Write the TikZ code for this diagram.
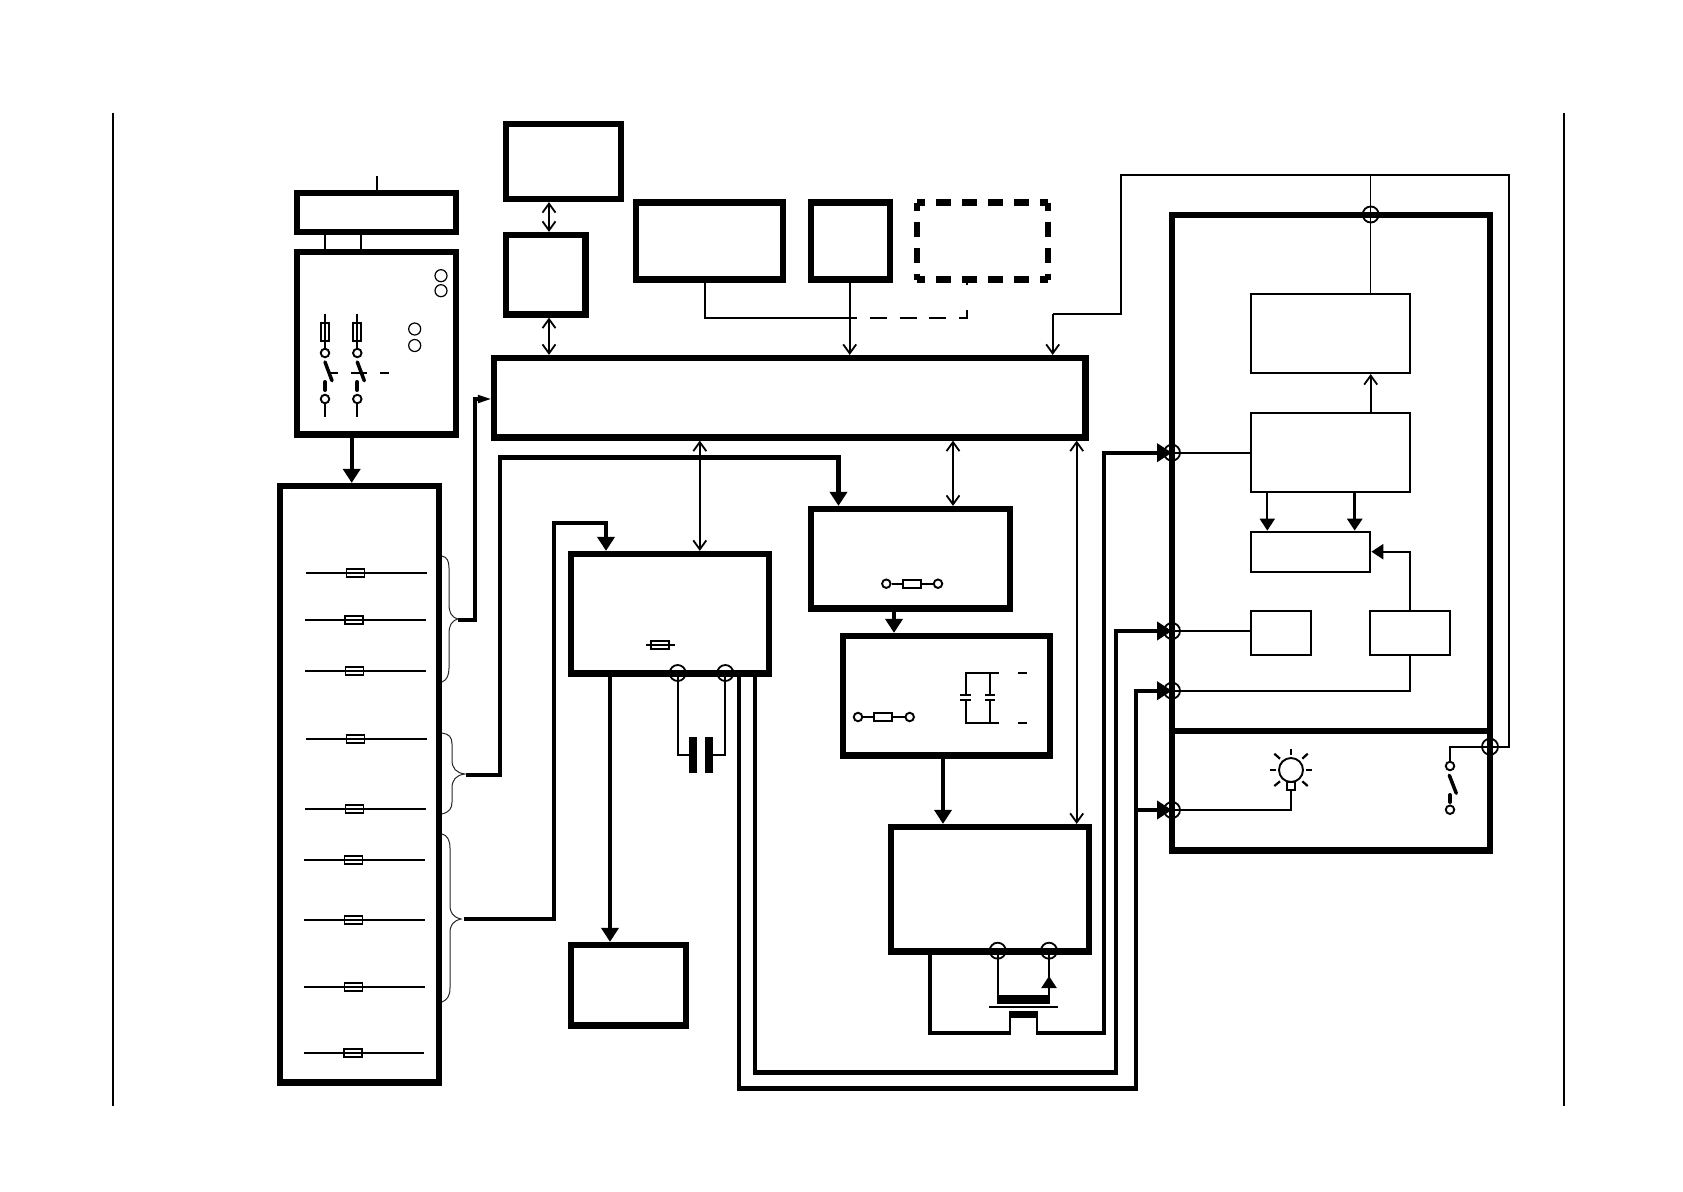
\documentclass[tikz,border=0pt]{standalone}
\usetikzlibrary{arrows.meta}
\newcommand\mybox[6]{\node[#6,minimum width={(#4-#2)*1pt},minimum height={(#5-#3)*1pt}] (#1) at ({(#2+#4)/2},{(#3+#5)/2}) {};}
\tikzset{
 x=1pt,y=-1pt,
 obarb/.tip={Straight Barb[length=9pt,width=13pt,line width=1.8pt]},
 ftri/.tip={Triangle[length=14pt,width=17pt]},
 fsm/.tip={Triangle[length=12pt,width=15pt]},
 fjun/.tip={Triangle[length=15pt,width=18pt]},
 ftiny/.tip={Triangle[length=13pt,width=8pt]},
 every node/.style={inner sep=0pt},
 thickbox/.style={draw,rectangle,line width=6.2pt},
 thinbox/.style={draw,rectangle,line width=2.1pt},
 plain/.style={draw=none,rectangle,outer sep=0pt},
 blob/.style={fill=black,rectangle,outer sep=0pt},
 heavy/.style={line width=4.2pt},
 mid/.style={line width=2.2pt},
 fine/.style={line width=1.9pt},
 jun/.style={draw,circle,line width=1.8pt,minimum size=16pt},
 term/.style={draw,circle,line width=1.9pt,minimum size=8.5pt,fill=white},
 gauge/.style={draw,circle,line width=1.2pt,minimum size=12pt},
 fuseh/.style={draw,rectangle,line width=1.8pt,minimum width=18pt,minimum height=8pt},
 fusev/.style={draw,rectangle,line width=1.8pt,minimum width=8pt,minimum height=18pt},
 blade/.style={line width=3.5pt,line cap=round},
 bracel/.style={line width=1pt,black!85},
}
\begin{document}
\begin{tikzpicture}
\useasboundingbox (0,0) rectangle (1683,1191);
\fill[white] (0,0) rectangle (1683,1191);
% frame rules
\coordinate (fl1) at (113.3,112.5); \coordinate (fl2) at (113.3,1105.7);
\coordinate (fr1) at (1564,112.5); \coordinate (fr2) at (1564,1105.7);
\draw[fine] (fl1) -- (fl2);
\draw[fine] (fr1) -- (fr2);
% thick boxes
\mybox{A}{297}{193}{456}{232}{thickbox}
\mybox{B}{297}{252}{456}{434.5}{thickbox}
\mybox{Pan}{280}{486}{439}{1082.5}{thickbox}
\mybox{J}{506}{124}{621}{199}{thickbox}
\mybox{K}{506}{235}{585.5}{314.5}{thickbox}
\mybox{L}{636}{202.5}{783}{279.5}{thickbox}
\mybox{M}{811}{202.5}{890}{279.5}{thickbox}
\mybox{N}{917}{202.5}{1048}{279.5}{plain}
\mybox{Main}{494}{358}{1085.5}{437.5}{thickbox}
\mybox{C}{571}{554}{769}{673.5}{thickbox}
\mybox{D}{811}{509}{1010}{608.5}{thickbox}
\mybox{E}{843}{636}{1050}{755.5}{thickbox}
\mybox{F}{891}{827}{1089}{951.5}{thickbox}
\mybox{P}{571}{945}{686}{1025.5}{thickbox}
\mybox{R1}{1172}{215}{1490}{731}{thickbox}
\mybox{R2}{1172}{731}{1490}{850.5}{thickbox}
% dashed box
\begin{scope}[line width=6.2pt,dash pattern=on 15pt off 11pt,dash phase=7pt]
\draw (N.north west) -- (N.north east);
\draw (N.south west) -- (N.south east);
\draw (N.north west) -- (N.south west);
\draw (N.north east) -- (N.south east);
\end{scope}
% thin boxes
\mybox{G}{1250.7}{293.7}{1410}{373}{thinbox}
\mybox{H}{1250.7}{413}{1410}{492}{thinbox}
\mybox{I}{1250.7}{531.7}{1370.3}{572}{thinbox}
\mybox{S1}{1250.7}{610.7}{1311.3}{655}{thinbox}
\mybox{S2}{1370.3}{610.7}{1450.3}{655}{thinbox}
% junctions
\node[jun] (jt) at (1370.7,214.5) {};
\node[jun] (j1) at (1172,452.7) {};
\node[jun] (j2) at (1172,631) {};
\node[jun] (j3) at (1172,690.7) {};
\node[jun] (j4) at (1172,810) {};
\node[jun] (j5) at (1490,746.7) {};
\node[jun] (c1) at (677.7,673) {};
\node[jun] (c2) at (725.3,673) {};
\node[jun] (f1) at (997.7,950.7) {};
\node[jun] (f2) at (1049,950.7) {};
\node[term] (sw1) at (1450,766) {};
\node[term] (sw2) at (1450,809.7) {};
% top connectors
\coordinate (feed) at (377,176);
\draw[mid] (feed) -- (377,0 |- A.north);
\draw[mid] (325,0 |- A.south) -- (325,0 |- B.north);
\draw[mid] (360.7,0 |- A.south) -- (360.7,0 |- B.north);
\draw[heavy,-ftri] (351.7,0 |- B.south) -- (351.7,0 |- Pan.north);
\draw[fine,obarb-obarb] (549,0 |- J.south) -- (549,0 |- K.north);
\draw[fine,obarb-obarb] (549,0 |- K.south) -- (549,0 |- Main.north);
\draw[fine] (704.7,0 |- L.south) |- (856.6,318);
\draw[fine,-obarb] (849.7,0 |- M.south) -- (849.7,0 |- Main.north);
\draw[fine,dash pattern=on 17pt off 12.5pt] (870,318) -- (967,318) -- (967,310);
\draw[fine] (967,285) -- (967,0 |- N.south);
% ring line
\draw[fine] (sw1.north) -- (1450,746.7) -- (j5.center) -- (1509.3,746.7) -- (1509.3,175) -- (1121,175) -- (1121,314) -- (1052.7,314);
\draw[fine,-obarb] (1052.7,314) -- (1052.7,0 |- Main.north);
\draw[line width=1.2pt] (1370.7,175) -- (jt.center) -- (1370.7,0 |- G.north);
% main-bus two-way
\draw[fine,obarb-obarb] (699.8,0 |- Main.south) -- (699.8,0 |- C.north);
\draw[fine,obarb-obarb] (953,0 |- Main.south) -- (953,0 |- D.north);
\draw[fine,obarb-obarb] (1076.7,0 |- Main.south) -- (1076.7,0 |- F.north);
% panel feeds
\coordinate (b1) at (458,620); \coordinate (b2) at (466,775); \coordinate (b3) at (464,919);
\draw[heavy] (b1) -- (475,620) -- (475,399) -- (480,399);
\draw[fine,-ftiny] (475,399) -- (Main.west |- 0,399);
\draw[heavy,-ftri] (b2) -- (500,775) -- (500,457.5) -- (838.5,457.5) -- (838.5,0 |- D.north);
\draw[heavy,-ftri] (b3) -- (554,919) -- (554,523) -- (606,523) -- (606,0 |- C.north);
\draw[heavy,-ftri] (894,0 |- D.south) -- (894,0 |- E.north);
\draw[heavy,-ftri] (943,0 |- E.south) -- (943,0 |- F.north);
\draw[heavy,-ftri] (610,0 |- C.south) -- (610,0 |- P.north);
% long buses
\draw[heavy,-fjun] (755,0 |- C.south) -- (755,1072.5) -- (1116,1072.5) -- (1116,631) -- (j2.center);
\draw[heavy,-fjun] (739,0 |- C.south) -- (739,1088.5) -- (1136,1088.5) -- (1136,690.7) -- (j3.center);
\draw[heavy,-fjun] (1136,810) -- (j4.center);
\draw[heavy] (930,0 |- F.south) -- (930,1033) -- (1010.7,1033);
\draw[heavy,-fjun] (1036,1033) -- (1104,1033) -- (1104,452.7) -- (j1.center);
% right box internals
\draw[mid] (j1.center) -- (H.west |- j1.center);
\draw[mid] (j2.center) -- (S1.west |- j2.center);
\draw[mid] (j3.center) -| (1410,0 |- S2.south);
\draw[mid,-fsm] (1410,0 |- S2.north) -- (1410,551.7) -- (I.east |- 0,551.7);
\draw[fine,-obarb] (1370.7,0 |- H.north) -- (1370.7,0 |- G.south);
\draw[fine,-fsm] (1267.3,0 |- H.south) -- (1267.3,0 |- I.north);
\draw[line width=3pt,-fsm] (1354.7,0 |- H.south) -- (1354.7,0 |- I.north);
% gauges
\node[gauge] (g1) at (441,275.7) {};
\node[gauge] (g2) at (441,290.7) {};
\node[gauge] (g3) at (414.7,329) {};
\node[gauge] (g4) at (414.7,345.5) {};
% double breaker
\foreach \n/\xx in {a/325,b/357.3}{
 \draw[mid] (\xx,314) -- (\xx,353);
 \draw[mid] (\xx,399) -- (\xx,417);
 \node[fusev] (fu\n) at (\xx,331.7) {};
 \node[term] (ta\n) at (\xx,353) {};
 \node[term] (tb\n) at (\xx,399) {};
 \draw[blade] (\xx,362) -- (\xx+7,380.7);
 \draw[line width=4pt,line cap=round] (\xx,382) -- (\xx,390);
}
\draw[mid] (330,372.7) -- (338,372.7);
\draw[mid] (351,372.7) -- (367,372.7);
\draw[mid] (380,372.7) -- (389,372.7);
% panel fuses
\foreach \n/\yy/\xa/\xb/\xf in {1/573.3/306/426.7/355.5,2/620.3/305/426/354,3/671.3/305/426/354.5,4/739.3/306/427/355.5,5/809.3/305/426/354.5,6/860.3/304/425/353.5,7/920.3/304/425/353.5,8/987.3/304/425/353.5,9/1053.3/304/424/353}{
 \draw[mid] (\xa,\yy) -- (\xb,\yy);
 \node[fuseh] (pf\n) at (\xf,\yy) {};
}
% braces
\draw[bracel] (442,556) .. controls (447,557) and (449,561) .. (449,568) -- (449,604) .. controls (449,612) and (451,617) .. (458,619) .. controls (451,621) and (449,626) .. (449,634) -- (449,668) .. controls (449,675) and (447,680) .. (442,682);
\draw[bracel] (442,733) .. controls (449,734) and (452,737) .. (452,744) -- (452,760) .. controls (452,768) and (456,773) .. (465,774) .. controls (456,775) and (452,780) .. (452,788) -- (452,802) .. controls (452,809) and (449,812) .. (442,814);
\draw[bracel] (442,834) .. controls (447,835) and (450,840) .. (450,848) -- (450,905) .. controls (450,913) and (453,917) .. (461,919) .. controls (453,921) and (450,925) .. (450,933) -- (450,988) .. controls (450,996) and (447,1000) .. (442,1002);
% C fuse and capacitor
\draw[mid] (646,645) -- (675,645);
\node[fuseh] (fc) at (660.3,645) {};
\mybox{p1}{689}{737}{697}{773}{blob}
\mybox{p2}{705}{737}{713}{773}{blob}
\draw[mid] (c1.center) |- (p1.west);
\draw[mid] (c2.center) |- (p2.east);
% D fuse
\node[term] (d1) at (886.3,583.7) {};
\node[term] (d2) at (938,583.7) {};
\node[fuseh] (fd) at (912,583.7) {};
\draw[mid] (d1) -- (fd); \draw[mid] (fd) -- (d2);
% E fuse
\node[term] (e1) at (858,717) {};
\node[term] (e2) at (909.7,717) {};
\node[fuseh] (fe) at (883,717) {};
\draw[mid] (e1) -- (fe); \draw[mid] (fe) -- (e2);
% E capacitors
\draw[mid] (999,672.7) -- (965.7,672.7) -- (965.7,695);
\draw[mid] (990.3,672.7) -- (990.3,695);
\draw[mid] (960,695) -- (971,695);
\draw[mid] (985,695) -- (995,695);
\draw[mid] (960,700) -- (971,700);
\draw[mid] (985,700) -- (995,700);
\draw[mid] (965.7,700) -- (965.7,722.7) -- (999,722.7);
\draw[mid] (990.3,700) -- (990.3,722.7);
\draw[mid] (1018,672.7) -- (1026.7,672.7);
\draw[mid] (1018,722.7) -- (1026.7,722.7);
% transistor
\mybox{t1}{997}{995}{1050}{1004}{blob}
\mybox{t2}{1009}{1011}{1038}{1018}{blob}
\draw[mid] (f1.center) -- (997.7,995);
\draw[mid,-fsm] (1049,995) -- (1049,976) ;
\draw[mid] (1049,980) -- (f2.center);
\draw[mid] (989,1007) -- (1058,1007);
\draw[mid] (1009.7,1018) -- (1009.7,1033);
\draw[mid] (1037,1018) -- (1037,1033);
% lamp
\node[draw,circle,line width=1.9pt,minimum size=24pt] (lamp) at (1291,770) {};
\mybox{lb}{1286.7}{781.7}{1295.3}{790}{thinbox}
\draw[mid] (j4.center) -| (lb.south);
\draw[mid] (1291,749.3) -- (1291,755);
\draw[mid] (1270,770) -- (1276,770);
\draw[mid] (1306,770) -- (1312,770);
\draw[mid] (1274.3,753.7) -- (1280,758.7);
\draw[mid] (1307.7,753.7) -- (1302.3,758.7);
\draw[mid] (1274.3,786) -- (1280,781.3);
\draw[mid] (1307.7,786) -- (1302.3,781.3);
% switch on door
\draw[blade] (1449.3,775.3) -- (1456.3,793.3);
\draw[line width=4pt,line cap=round] (1450,795) -- (1450,802);
\end{tikzpicture}
\end{document}
